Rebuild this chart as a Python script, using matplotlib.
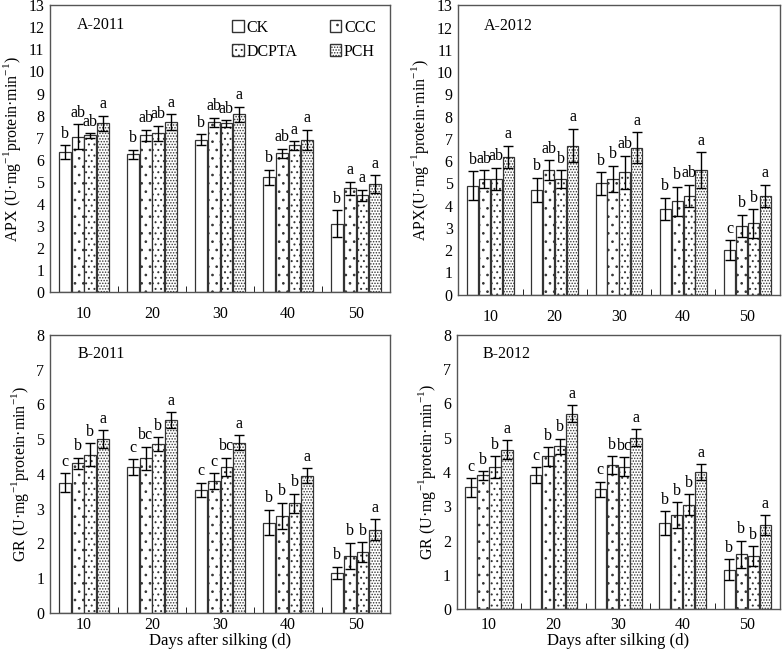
import numpy as np
import matplotlib
matplotlib.use('Agg')
import matplotlib.pyplot as plt
from matplotlib.patches import Patch

plt.rcParams['font.family'] = ['Liberation Serif', 'DejaVu Serif']
plt.rcParams['mathtext.fontset'] = 'custom'
plt.rcParams['mathtext.rm'] = 'Liberation Serif'
plt.rcParams['hatch.linewidth'] = 0.7

days = ['10', '20', '30', '40', '50']
treatments = ['CK', 'CCC', 'DCPTA', 'PCH']

# APX 2011
apx11 = [[6.35, 6.25, 6.9, 5.2, 3.1],
         [7.05, 7.1, 7.7, 6.3, 4.7],
         [7.1, 7.2, 7.65, 6.65, 4.4],
         [7.65, 7.7, 8.05, 6.9, 4.9]]
apx11_err = [[0.3, 0.2, 0.25, 0.35, 0.6],
             [0.55, 0.25, 0.2, 0.2, 0.3],
             [0.1, 0.35, 0.15, 0.2, 0.25],
             [0.35, 0.35, 0.35, 0.45, 0.4]]
apx11_let = [['b', 'b', 'b', 'b', 'b'],
             ['ab', 'ab', 'ab', 'ab', 'a'],
             ['ab', 'ab', 'ab', 'a', 'a'],
             ['a', 'a', 'a', 'a', 'a']]

# APX 2012
apx12 = [[4.9, 4.7, 5.0, 3.85, 2.0],
         [5.2, 5.6, 5.2, 4.2, 3.1],
         [5.2, 5.2, 5.5, 4.45, 3.2],
         [6.2, 6.7, 6.6, 5.6, 4.45]]
apx12_err = [[0.65, 0.55, 0.5, 0.5, 0.45],
             [0.4, 0.45, 0.6, 0.65, 0.5],
             [0.5, 0.4, 0.75, 0.5, 0.65],
             [0.5, 0.75, 0.7, 0.8, 0.5]]
apx12_let = [['b', 'b', 'b', 'b', 'c'],
             ['ab', 'ab', 'b', 'b', 'b'],
             ['ab', 'b', 'ab', 'ab', 'b'],
             ['a', 'a', 'a', 'a', 'a']]

# GR 2011
gr11 = [[3.75, 4.2, 3.55, 2.6, 1.15],
        [4.3, 4.45, 3.8, 2.8, 1.65],
        [4.55, 4.85, 4.2, 3.15, 1.75],
        [5.0, 5.55, 4.9, 3.95, 2.4]]
gr11_err = [[0.27, 0.22, 0.2, 0.37, 0.18],
            [0.17, 0.33, 0.22, 0.37, 0.37],
            [0.33, 0.2, 0.27, 0.28, 0.28],
            [0.25, 0.22, 0.22, 0.22, 0.3]]
gr11_let = [['c', 'c', 'c', 'b', 'b'],
            ['b', 'bc', 'c', 'b', 'b'],
            ['b', 'b', 'bc', 'b', 'b'],
            ['a', 'a', 'a', 'a', 'a']]

# GR 2012
gr12 = [[3.55, 3.9, 3.5, 2.5, 1.15],
        [3.9, 4.45, 4.2, 2.75, 1.6],
        [4.15, 4.75, 4.15, 3.05, 1.55],
        [4.65, 5.7, 5.0, 4.0, 2.45]]
gr12_err = [[0.27, 0.23, 0.22, 0.35, 0.3],
            [0.13, 0.28, 0.25, 0.37, 0.4],
            [0.32, 0.22, 0.28, 0.3, 0.28],
            [0.27, 0.25, 0.25, 0.23, 0.28]]
gr12_let = [['c', 'c', 'c', 'b', 'b'],
            ['b', 'b', 'b', 'b', 'b'],
            ['b', 'b', 'bc', 'b', 'b'],
            ['a', 'a', 'a', 'a', 'a']]

hatches = ['', '..', '...', '......']
fs = 11.5


def panel(ax, vals, errs, lets, ymax, ylabel, tag, xlabel=None, xpad=10):
    x = np.arange(len(days))
    w = 0.185
    for i in range(4):
        pos = x + (i - 1.5) * w
        ax.bar(pos, vals[i], w * 0.94, color='white', edgecolor='#333333',
               hatch=hatches[i], linewidth=0.9, label=treatments[i])
        ax.errorbar(pos, vals[i], yerr=errs[i], fmt='none', ecolor='black',
                    elinewidth=1.0, capsize=3.5, capthick=1.0)
        for p, v, e, t in zip(pos, vals[i], errs[i], lets[i]):
            ax.text(p, v + e + ymax * 0.012, t, ha='center', va='bottom', fontsize=fs)
    ax.set_xlim(-0.5, 4.5)
    ax.set_ylim(0, ymax)
    ax.set_yticks(range(ymax + 1))
    ax.set_xticks(x)
    ax.set_xticklabels(days)
    ax.set_xticks([0.5, 1.5, 2.5, 3.5], minor=True)
    ax.tick_params(axis='x', which='major', length=0, pad=xpad, labelsize=fs)
    ax.tick_params(axis='x', which='minor', direction='in', length=4)
    ax.tick_params(axis='y', length=0, pad=4, labelsize=fs)
    ax.set_ylabel(ylabel, fontsize=fs, labelpad=4)
    ax.text(0.08, 0.93, tag, transform=ax.transAxes, fontsize=fs, va='center')
    if xlabel:
        ax.set_xlabel(xlabel, fontsize=fs + 0.5, labelpad=0)
    for s in ax.spines.values():
        s.set_color('#555555')
        s.set_linewidth(1.0)


fig = plt.figure(figsize=(7.82, 6.55), dpi=100)
ax1 = fig.add_axes([0.064, 0.554, 0.435, 0.438])
ax2 = fig.add_axes([0.586, 0.550, 0.411, 0.442])
ax3 = fig.add_axes([0.064, 0.064, 0.435, 0.425])
ax4 = fig.add_axes([0.584, 0.070, 0.413, 0.419])

sup = r'$^{\mathregular{-1}}$'
panel(ax1, apx11, apx11_err, apx11_let, 13,
      'APX (U·mg' + sup + 'protein·min' + sup + ')', 'A-2011')
panel(ax2, apx12, apx12_err, apx12_let, 13,
      'APX(U·mg' + sup + 'protein·min' + sup + ')', 'A-2012')
panel(ax3, gr11, gr11_err, gr11_let, 8,
      'GR (U·mg' + sup + 'protein·min' + sup + ')', 'B-2011',
      'Days after silking (d)', xpad=3)
panel(ax4, gr12, gr12_err, gr12_let, 8,
      'GR (U·mg' + sup + 'protein·min' + sup + ')', 'B-2012',
      'Days after silking (d)', xpad=6)

handles = [Patch(facecolor='white', edgecolor='#333333', hatch=h, label=t)
           for h, t in zip(hatches, treatments)]
ax1.legend(handles=[handles[0], handles[2], handles[1], handles[3]],
           labels=['CK', 'DCPTA', 'CCC', 'PCH'], ncol=2, frameon=False,
           loc='upper right', bbox_to_anchor=(1.0, 1.0), fontsize=fs,
           handlelength=0.7, handleheight=0.7, handletextpad=0.2,
           columnspacing=2.0, labelspacing=0.5)

fig.savefig('out.png', dpi=100)
